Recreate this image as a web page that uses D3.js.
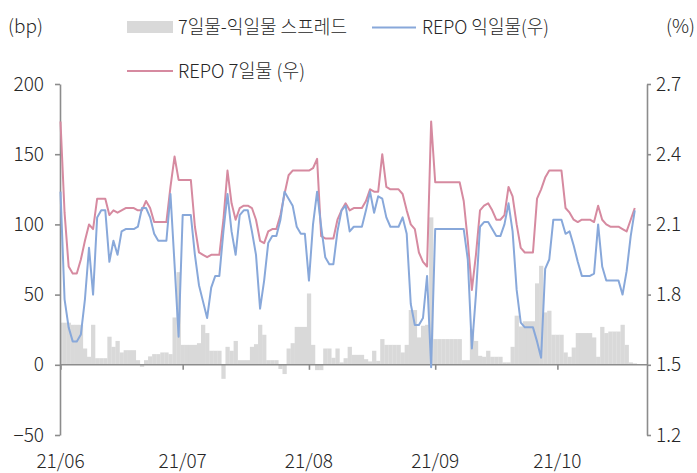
<!DOCTYPE html>
<html>
<head>
<meta charset="utf-8">
<script src="https://cdn.jsdelivr.net/npm/d3@7"></script>
<style>
  body { margin: 0; background: #fff; }
  text { font-family: "Noto Sans CJK KR", "Noto Sans", sans-serif; font-weight: 300; fill: #262626; }
</style>
</head>
<body>
<div id="chart"></div>
<script>
// daily values, one per calendar day starting 2021-06-01
var startDate = new Date(2021, 5, 1);

// REPO 7-day rate (%), right axis
var repo7 = [2.54, 2.15, 1.92, 1.89, 1.89, 1.95, 2.03, 2.10, 2.08, 2.21,
  2.21, 2.21, 2.14, 2.16, 2.15, 2.16, 2.17, 2.17, 2.17, 2.16,
  2.16, 2.20, 2.17, 2.11, 2.11, 2.11, 2.11, 2.26, 2.39, 2.29,
  2.29, 2.29, 2.29, 2.09, 1.98, 1.97, 1.96, 1.97, 1.97, 1.97,
  2.12, 2.33, 2.19, 2.12, 2.17, 2.18, 2.18, 2.17, 2.12, 2.03,
  2.02, 2.07, 2.08, 2.08, 2.14, 2.23, 2.31, 2.33, 2.33, 2.33,
  2.33, 2.33, 2.34, 2.38, 2.05, 2.04, 2.04, 2.04, 2.12, 2.16,
  2.19, 2.16, 2.17, 2.17, 2.17, 2.20, 2.25, 2.24, 2.24, 2.40,
  2.26, 2.25, 2.25, 2.25, 2.23, 2.16, 2.10, 2.08, 1.98, 1.94,
  1.92, 2.54, 2.28, 2.28, 2.28, 2.28, 2.28, 2.28, 2.28, 2.20,
  2.03, 1.82, 1.97, 2.16, 2.18, 2.19, 2.16, 2.12, 2.12, 2.14,
  2.26, 2.22, 2.10, 2.00, 1.98, 1.98, 1.98, 2.21, 2.25, 2.30,
  2.33, 2.33, 2.33, 2.33, 2.17, 2.15, 2.12, 2.11, 2.12, 2.12,
  2.12, 2.11, 2.18, 2.12, 2.10, 2.09, 2.09, 2.09, 2.08, 2.07,
  2.12, 2.17];

// REPO overnight rate (%), right axis
var repoON = [2.24, 1.78, 1.66, 1.60, 1.60, 1.63, 1.78, 2.00, 1.80, 2.13,
  2.16, 2.16, 1.94, 2.03, 1.97, 2.07, 2.08, 2.08, 2.08, 2.09,
  2.17, 2.17, 2.13, 2.06, 2.03, 2.03, 2.03, 2.23, 1.93, 1.62,
  2.14, 2.14, 2.14, 1.97, 1.84, 1.77, 1.70, 1.83, 1.88, 1.88,
  2.07, 2.23, 2.07, 1.97, 2.14, 2.16, 2.16, 2.07, 1.97, 1.74,
  1.86, 2.02, 2.05, 2.05, 2.12, 2.24, 2.21, 2.18, 2.09, 2.06,
  2.06, 1.86, 2.10, 2.24, 2.09, 1.96, 1.93, 1.93, 2.07, 2.16,
  2.18, 2.07, 2.09, 2.09, 2.09, 2.16, 2.24, 2.15, 2.22, 2.21,
  2.13, 2.09, 2.09, 2.09, 2.13, 2.06, 1.76, 1.67, 1.67, 1.70,
  1.88, 1.49, 2.08, 2.08, 2.08, 2.08, 2.08, 2.08, 2.08, 2.08,
  1.95, 1.57, 1.80, 2.09, 2.11, 2.11, 2.08, 2.05, 2.05, 2.10,
  2.19, 2.07, 1.82, 1.68, 1.66, 1.66, 1.66, 1.60, 1.53, 1.91,
  1.95, 2.12, 2.12, 2.12, 2.06, 2.07, 2.01, 1.94, 1.88, 1.88,
  1.88, 1.89, 2.10, 1.92, 1.86, 1.86, 1.86, 1.86, 1.80, 1.90,
  2.05, 2.16];

// 7-day minus overnight spread (bp), left axis
var spread = [30, 30, 30, 28.5, 28.5, 28.5, 11.6, 5.7, 28.5, 4.7,
  4.7, 4.7, 20, 12.8, 17, 8.8, 10.4, 10.4, 10.4, 3.3,
  -1.4, 3.3, 6, 7.6, 7.6, 8.8, 8.8, 7.6, 33.7, 66,
  14.2, 14.2, 14.2, 14.2, 15.4, 28.5, 22.6, 10, 10, 10,
  -10, 12.8, 10, 17, 3.3, 3.3, 3.3, 12.8, 14.7, 28.5,
  21.4, 3.3, 3.3, 3.3, -3, -6.6, 11.6, 15.4, 27, 27,
  27, 50.8, 14.2, -3.8, -3.8, 11.6, 11.6, 5, 11.6, 1.7,
  4.7, 12.8, 7.1, 7.1, 7.1, 4, 2.4, 10, 2.8, 18.3,
  14.2, 14.2, 14.2, 14.2, 8.8, 14.2, 39, 39, 19.5, 27.8,
  28.5, 105, 18.3, 18.3, 18.3, 18.3, 18.3, 18.3, 18.3, 3.3,
  3.3, 25.4, 17, 6.4, 5.7, 10, 5.7, 5.7, 5.7, 1.7,
  1.7, 12.8, 35, 27.3, 31, 31, 31, 58, 70.5, 37.3,
  38.5, 21.4, 21.4, 21.4, 8.8, 5.7, 12.3, 22.6, 22.6, 22.6,
  22.6, 19.5, 5.7, 27, 22.6, 23.7, 23.7, 23.7, 28.5, 14.2,
  1.7, 1.0];

var leftTicks = [-50, 0, 50, 100, 150, 200];
var rightTicks = [1.2, 1.5, 1.8, 2.1, 2.4, 2.7];
var monthTicks = [new Date(2021, 5, 1), new Date(2021, 6, 1), new Date(2021, 7, 1),
  new Date(2021, 8, 1), new Date(2021, 9, 1)];

var svgWidth = 697;
var svgHeight = 473;
var plot = { left: 60, right: 647, top: 84, bottom: 435 };

var barColor = "#d9d9d9";
var onColor = "#88a8da";
var sevenColor = "#d68aa0";
var axisColor = "#8c8c8c";

var dates = spread.map(function(d, i) { return d3.timeDay.offset(startDate, i); });

var svg = d3.select("#chart")
  .append("svg")
  .attr("width", svgWidth)
  .attr("height", svgHeight);

// scales
var x = d3.scaleTime()
  .domain([startDate, new Date(2021, 9, 23)])
  .range([plot.left + 0.5, plot.right]);

var yLeft = d3.scaleLinear().domain([-50, 200]).range([plot.bottom, plot.top]);
var yRight = d3.scaleLinear().domain([1.2, 2.7]).range([plot.bottom, plot.top]);

var dayWidth = x(d3.timeDay.offset(startDate, 1)) - x(startDate);

svg.append("clipPath")
  .attr("id", "plotClip")
  .append("rect")
  .attr("x", plot.left)
  .attr("y", 0)
  .attr("width", plot.right - plot.left)
  .attr("height", svgHeight);

// spread bars
svg.append("g")
  .attr("clip-path", "url(#plotClip)")
  .selectAll("rect")
  .data(spread)
  .enter()
  .append("rect")
  .attr("x", function(d, i) { return x(dates[i]) - dayWidth / 2; })
  .attr("width", dayWidth + 0.2)
  .attr("y", function(d) { return yLeft(Math.max(0, d)); })
  .attr("height", function(d) { return Math.abs(yLeft(d) - yLeft(0)); })
  .attr("fill", barColor);

// axes
var leftAxis = svg.append("g")
  .attr("transform", `translate(${plot.left}, 0)`)
  .call(d3.axisLeft(yLeft).tickValues(leftTicks).tickSize(5).tickSizeOuter(0).tickPadding(11));

var rightAxis = svg.append("g")
  .attr("transform", `translate(${plot.right}, 0)`)
  .call(d3.axisRight(yRight).tickValues(rightTicks).tickSize(4).tickSizeOuter(0).tickPadding(5)
    .tickFormat(d3.format(".1f")));

var xAxis = svg.append("g")
  .attr("transform", `translate(0, ${yLeft(0)})`)
  .call(d3.axisBottom(x).tickValues(monthTicks).tickSize(5).tickSizeOuter(0).tickFormat(""));

xAxis.select(".domain").attr("d", `M${plot.left},0H${plot.right}`);

[leftAxis, rightAxis, xAxis].forEach(function(a) {
  a.select(".domain").attr("stroke", axisColor).attr("stroke-width", 1.6);
  a.selectAll(".tick line").attr("stroke", axisColor).attr("stroke-width", 1.6);
  a.selectAll(".tick text")
    .attr("font-size", "19px")
    .attr("font-family", null)
    .attr("fill", "#262626");
});
leftAxis.selectAll(".tick text").text(function(d) { return d < 0 ? "\u2212" + Math.abs(d) : d; });

// month labels under the chart
svg.append("g")
  .selectAll("text")
  .data(monthTicks)
  .enter()
  .append("text")
  .attr("x", function(d) { return x(d); })
  .attr("y", 468)
  .attr("text-anchor", "middle")
  .attr("font-size", "19px")
  .text(d3.timeFormat("%y/%m"));

// lines
var lineOf = function(values) {
  return d3.line()
    .x(function(d, i) { return x(dates[i]); })
    .y(function(d) { return yRight(d); })(values);
};

svg.append("path")
  .attr("d", lineOf(repo7))
  .attr("fill", "none")
  .attr("stroke", sevenColor)
  .attr("stroke-width", 2)
  .attr("stroke-linejoin", "round");

svg.append("path")
  .attr("d", lineOf(repoON))
  .attr("fill", "none")
  .attr("stroke", onColor)
  .attr("stroke-width", 2)
  .attr("stroke-linejoin", "round");

// unit labels
svg.append("text").attr("x", 8).attr("y", 33).attr("font-size", "19px").text("(bp)");
svg.append("text").attr("x", 695).attr("y", 33).attr("font-size", "19px")
  .attr("text-anchor", "end").text("(%)");

// legend (text squeezed to the narrow face of the original)
var legend = svg.append("g");
legend.append("rect")
  .attr("x", 127).attr("y", 21).attr("width", 46).attr("height", 12)
  .attr("fill", barColor);
legend.append("text").attr("x", 178).attr("y", 34).attr("font-size", "19px")
  .attr("textLength", 169).attr("lengthAdjust", "spacingAndGlyphs")
  .text("7일물-익일물 스프레드");
legend.append("line")
  .attr("x1", 372).attr("x2", 416).attr("y1", 27.5).attr("y2", 27.5)
  .attr("stroke", onColor).attr("stroke-width", 2);
legend.append("text").attr("x", 422).attr("y", 34).attr("font-size", "19px")
  .attr("textLength", 127).attr("lengthAdjust", "spacingAndGlyphs")
  .text("REPO 익일물(우)");
legend.append("line")
  .attr("x1", 127).attr("x2", 173).attr("y1", 71).attr("y2", 71)
  .attr("stroke", sevenColor).attr("stroke-width", 2);
legend.append("text").attr("x", 178).attr("y", 78).attr("font-size", "19px")
  .attr("textLength", 127).attr("lengthAdjust", "spacingAndGlyphs")
  .text("REPO 7일물 (우)");
</script>
</body>
</html>
